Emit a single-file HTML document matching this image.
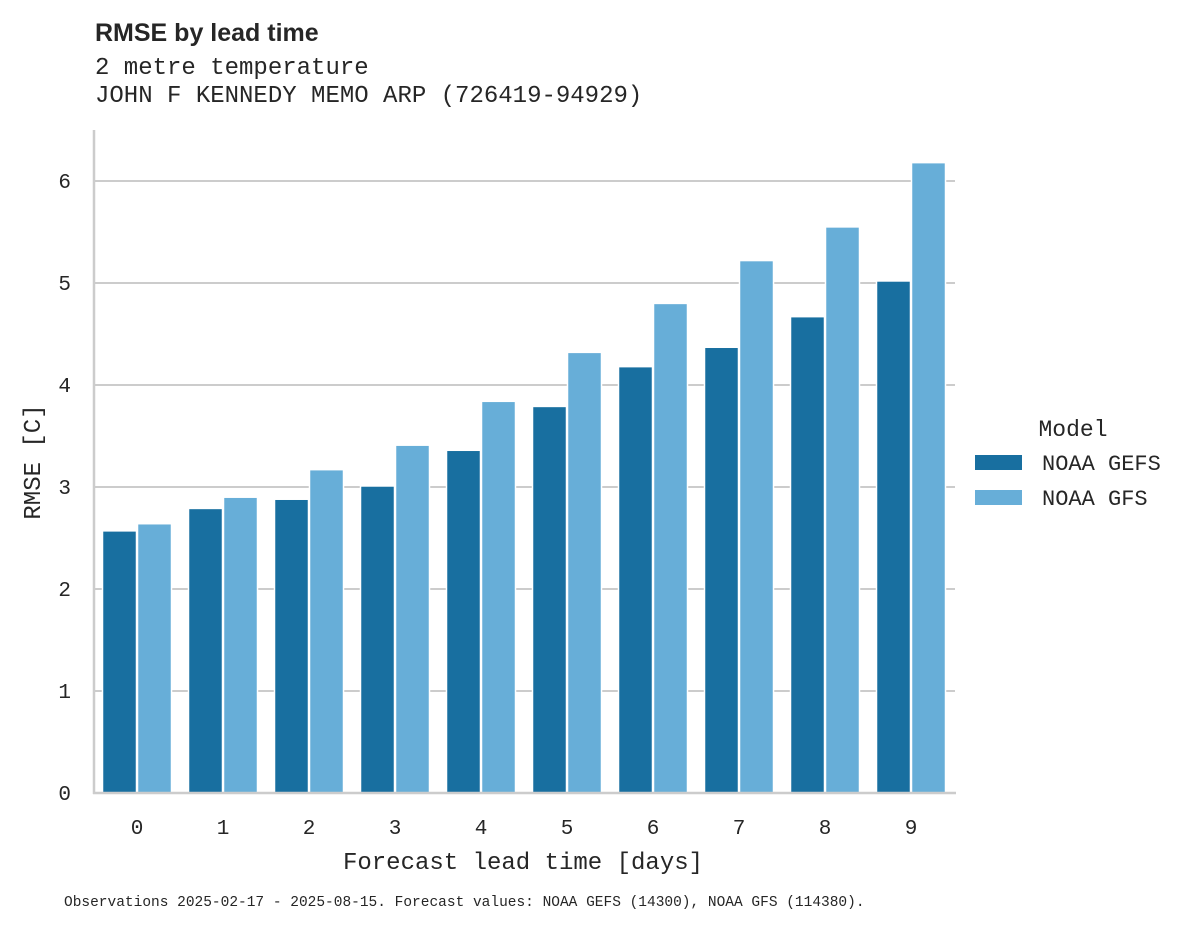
<!DOCTYPE html>
<html><head><meta charset="utf-8"><style>
body{margin:0;background:#fff;}
svg text{fill:#262626;}
.mono{font-family:"Liberation Mono","DejaVu Sans Mono",monospace;}
</style></head><body>
<svg width="1195" height="928" xmlns="http://www.w3.org/2000/svg">
<text x="95" y="41" font-family="Liberation Sans, DejaVu Sans, sans-serif" font-weight="bold" font-size="25">RMSE by lead time</text>
<text x="95" y="74" class="mono" font-size="24">2 metre temperature</text>
<text x="95" y="102" class="mono" font-size="24">JOHN F KENNEDY MEMO ARP (726419-94929)</text>
<g id="grid"></g>
<g id="bars"></g>
<line x1="94" y1="130" x2="94" y2="794" stroke="#cccccc" stroke-width="2.5"/>
<line x1="93" y1="793" x2="956" y2="793" stroke="#cccccc" stroke-width="2.5"/>
<g id="yt"></g>
<g id="xt"></g>
<text transform="translate(40,462) rotate(-90)" text-anchor="middle" class="mono" font-size="24">RMSE [C]</text>
<text x="523" y="869" text-anchor="middle" class="mono" font-size="24">Forecast lead time [days]</text>
<g>
<text x="1073" y="436" text-anchor="middle" class="mono" font-size="23">Model</text>
<rect x="975" y="455" width="47" height="15" fill="#186fa0"/>
<text x="1042" y="470" class="mono" font-size="22">NOAA GEFS</text>
<rect x="975" y="490" width="47" height="15" fill="#67aed8"/>
<text x="1042" y="505" class="mono" font-size="22">NOAA GFS</text>
</g>
<text x="64" y="906" class="mono" font-size="14.5">Observations 2025-02-17 - 2025-08-15. Forecast values: NOAA GEFS (14300), NOAA GFS (114380).</text>
</svg>
<script>
const categories=["0","1","2","3","4","5","6","7","8","9"];
const gefsValues=[2.57,2.79,2.88,3.01,3.36,3.79,4.18,4.37,4.67,5.02];
const gfsValues=[2.64,2.90,3.17,3.41,3.84,4.32,4.80,5.22,5.55,6.18];
const yTicks=[0,1,2,3,4,5,6];
const NS="http://www.w3.org/2000/svg";
function y(v){return 793-v*102;}
function xc(i){return 137+i*86;}
const grid=document.getElementById('grid'),bars=document.getElementById('bars'),yt=document.getElementById('yt'),xt=document.getElementById('xt');
yTicks.forEach(t=>{
 const l=document.createElementNS(NS,'line');
 l.setAttribute('x1',94);l.setAttribute('x2',955);l.setAttribute('y1',y(t));l.setAttribute('y2',y(t));
 l.setAttribute('stroke','#cccccc');l.setAttribute('stroke-width','2');
 
 
 grid.appendChild(l);
 const tx=document.createElementNS(NS,'text');
 tx.setAttribute('x',71);tx.setAttribute('y',y(t)+7);tx.setAttribute('text-anchor','end');
 tx.setAttribute('class','mono');tx.setAttribute('font-size','21');tx.textContent=t;
 
 
 yt.appendChild(tx);
});
categories.forEach((c,i)=>{
 [[gefsValues[i],'#186fa0',-34.5],[gfsValues[i],'#67aed8',0.5]].forEach(([v,col,off],k)=>{
  const r=document.createElementNS(NS,'rect');
  r.setAttribute('x',xc(i)+off);r.setAttribute('width',34);
  r.setAttribute('y',y(v));r.setAttribute('height',793-y(v));
  r.setAttribute('fill',col);r.setAttribute('stroke','#fff');r.setAttribute('stroke-width','1.5');
  
  
  bars.appendChild(r);
 });
 const tx=document.createElementNS(NS,'text');
 tx.setAttribute('x',xc(i));tx.setAttribute('y',834);tx.setAttribute('text-anchor','middle');
 tx.setAttribute('class','mono');tx.setAttribute('font-size','21');tx.textContent=c;
 
 
 xt.appendChild(tx);
});
</script>
</body></html>
